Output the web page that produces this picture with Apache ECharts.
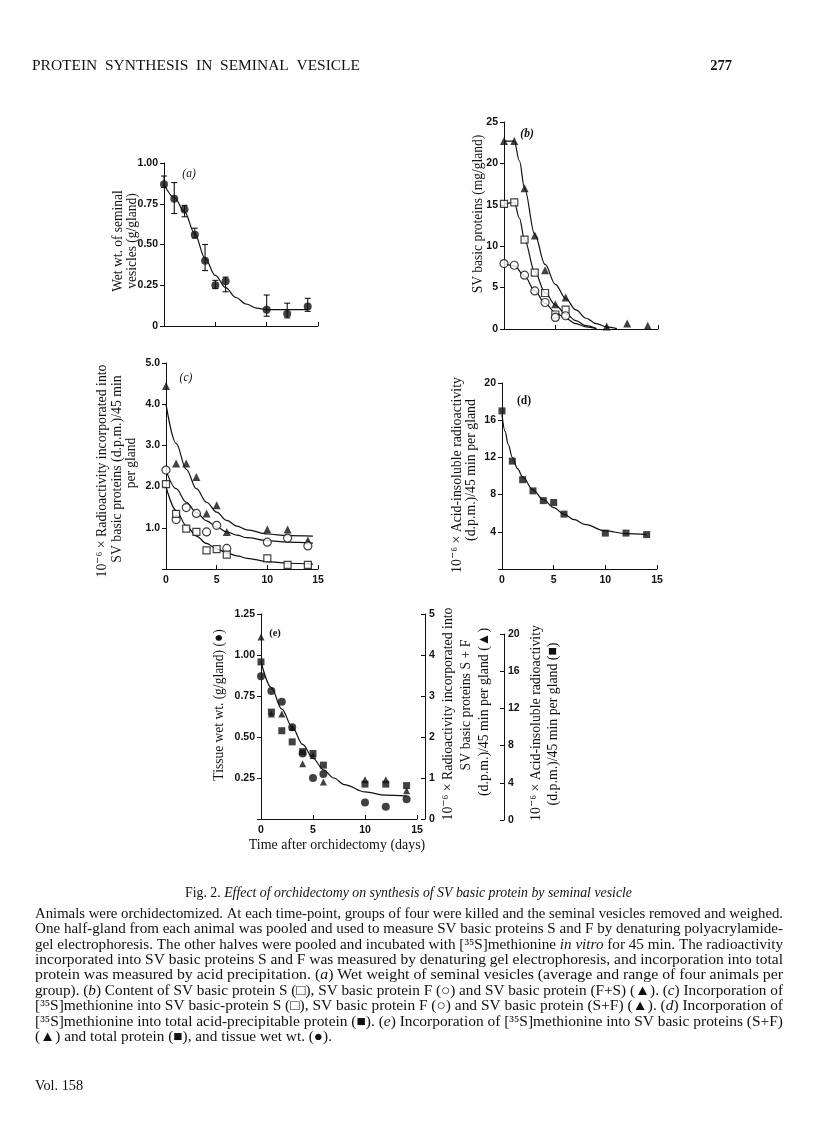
<!DOCTYPE html>
<html><head><meta charset="utf-8">
<script src="https://cdn.jsdelivr.net/npm/echarts@6/dist/echarts.min.js"></script>
<style>html,body{margin:0;padding:0;background:#fff}#c{width:816px;height:1136px}</style>
</head><body><div id="c"></div>
<script>
// ---------- data ----------
const days = [0, 1, 2, 3, 4, 5, 6, 10, 12, 14];
const days7 = [0, 1, 2, 3, 4, 5, 6];

// (a) wet weight of seminal vesicles (g/gland) with range
const wetWt   = [0.87, 0.78, 0.715, 0.56, 0.40, 0.25, 0.275, 0.10, 0.075, 0.12];
const wetLow  = [0.85, 0.69, 0.67, 0.54, 0.34, 0.23, 0.21, 0.06, 0.05, 0.09];
const wetHigh = [0.92, 0.88, 0.74, 0.60, 0.50, 0.28, 0.30, 0.19, 0.14, 0.17];
const fitAx = [0, 1, 2, 3, 4, 5, 6, 7, 8, 9, 10, 12, 14];
const fitAy = [0.87, 0.79, 0.70, 0.565, 0.415, 0.31, 0.235, 0.175, 0.135, 0.11, 0.10, 0.10, 0.10];

// (b) SV basic proteins (mg/gland)
const protFS = [22.7, 22.7, 17.0, 11.3, 7.1, 3.0, 3.8, 0.3, 0.65, 0.4];
const protS  = [15.1, 15.3, 10.8, 6.8, 4.35, 1.75, 2.35];
const protF  = [7.9, 7.7, 6.5, 4.6, 3.2, 1.4, 1.6];
const fitBFSx = [0, 1, 1.5, 2, 3, 4, 5, 6, 7, 8, 9, 10, 11];
const fitBFSy = [22.7, 22.7, 20.3, 17.0, 11.4, 7.8, 5.4, 3.7, 2.3, 1.3, 0.65, 0.25, 0.05];
const fitBSx = [0, 1, 1.5, 2, 3, 4, 5, 6, 7, 8, 9];
const fitBSy = [15.1, 15.3, 13.4, 10.8, 6.9, 4.4, 2.9, 1.85, 1.0, 0.4, 0.05];
const fitBFx = [0, 1, 2, 3, 4, 5, 6, 7, 8, 9];
const fitBFy = [7.9, 7.65, 6.4, 4.6, 3.1, 2.0, 1.3, 0.65, 0.25, 0.03];

// (c) radioactivity incorporated (10^-6 d.p.m./45 min per gland)
const radFS = [4.44, 2.56, 2.56, 2.23, 1.35, 1.55, 0.90, 0.96, 0.96, 0.69];
const radF  = [2.40, 1.20, 1.49, 1.35, 0.90, 1.06, 0.50, 0.65, 0.75, 0.56];
const radS  = [2.06, 1.34, 0.98, 0.90, 0.45, 0.48, 0.35, 0.26, 0.10, 0.10];
const fitCx   = [0, 1, 2, 3, 4, 5, 6, 7, 8, 10, 12, 14.5];
const fitCFSy = [4.0, 3.05, 2.42, 1.95, 1.62, 1.38, 1.18, 1.04, 0.95, 0.85, 0.81, 0.80];
const fitCFy  = [2.40, 1.95, 1.62, 1.37, 1.17, 1.02, 0.90, 0.82, 0.76, 0.69, 0.65, 0.63];
const fitCSy  = [2.0, 1.42, 1.05, 0.80, 0.62, 0.49, 0.39, 0.32, 0.26, 0.18, 0.14, 0.12];

// (d) acid-insoluble radioactivity
const acidIns = [17.0, 11.6, 9.6, 8.4, 7.35, 7.15, 5.9, 3.86, 3.86, 3.7];
const fitDx = [0, 0.3, 0.6, 1, 1.5, 2, 3, 4, 5, 6, 7, 8, 10, 12, 14];
const fitDy = [16.6, 14.8, 13.4, 12.0, 10.8, 9.9, 8.5, 7.45, 6.6, 5.9, 5.3, 4.8, 4.1, 3.8, 3.7];

// (e) combined plot fit (tissue wet wt scale)
const fitEx = [0, 1, 2, 3, 4, 5, 6, 7, 8, 10, 12, 14];
const fitEy = [0.96, 0.80, 0.67, 0.56, 0.455, 0.37, 0.30, 0.25, 0.21, 0.165, 0.145, 0.14];

// ---------- helpers ----------
const SERIF = '"Liberation Serif","DejaVu Serif",serif';
const SANS = '"Liberation Sans","DejaVu Sans",sans-serif';
const INK = '#111';
const zip = (xs, ys) => ys.map((y, i) => [xs[i], y]);
const TICKFONT = { fontFamily: SANS, fontSize: 10.5, fontWeight: 'bold', color: INK };

function xAx(grid, labels, show = true) {
  return {
    type: 'value', gridIndex: grid, min: 0, max: 15, interval: 5, show,
    axisLine: { show: true, onZero: false, lineStyle: { color: INK, width: 1 } },
    axisTick: { show: true, inside: true, length: 4, lineStyle: { color: INK } },
    axisLabel: Object.assign({ show: labels, margin: 6 }, TICKFONT),
    splitLine: { show: false }
  };
}
function yAx(grid, max, interval, fmt, extra) {
  return Object.assign({
    type: 'value', gridIndex: grid, min: 0, max, interval,
    axisLine: { show: true, onZero: false, lineStyle: { color: INK, width: 1 } },
    axisTick: { show: true, inside: false, length: 4, lineStyle: { color: INK } },
    axisLabel: Object.assign({ margin: 6, formatter: fmt }, TICKFONT),
    splitLine: { show: false }
  }, extra || {});
}
function curve(xi, yi, xs, ys) {
  return { type: 'line', xAxisIndex: xi, yAxisIndex: yi, data: zip(xs, ys), smooth: 0.35,
    smoothMonotone: 'x', symbol: 'none', silent: true, z: 1,
    lineStyle: { color: INK, width: 1.2 } };
}
function pts(xi, yi, xs, ys, symbol, open, size) {
  return { type: 'scatter', xAxisIndex: xi, yAxisIndex: yi, data: zip(xs, ys), symbol,
    symbolSize: size, silent: true, z: 3,
    itemStyle: open ? { color: '#fff', borderColor: INK, borderWidth: 1.2 } : { color: INK } };
}

// text measuring for justified lines
const mctx = document.createElement('canvas').getContext('2d');
function segFont(k, size) {
  return ((k === 'i' || k === 'bi') ? 'italic ' : '') + ((k === 'b' || k === 'bi') ? 'bold ' : '') + size + 'px ' + SERIF;
}
function measure(segs, size) {
  let w = 0;
  segs.forEach(([t, k]) => { mctx.font = segFont(k, size); w += mctx.measureText(t).width; });
  return w;
}
function richLine(segs, x, y, size, sx) {
  const rich = {};
  ['r', 'i', 'b', 'bi'].forEach(k => rich[k] = {
    fontFamily: SERIF, fontSize: size,
    fontStyle: (k === 'i' || k === 'bi') ? 'italic' : 'normal',
    fontWeight: (k === 'b' || k === 'bi') ? 'bold' : 'normal', fill: INK, color: INK });
  const text = segs.map(([t, k]) => '{' + k + '|' + t + '}').join('');
  return { type: 'text', x, y, scaleX: sx, silent: true,
    style: { text, rich, fill: INK, fontFamily: SERIF, fontSize: size,
      textAlign: 'left', textVerticalAlign: 'middle', align: 'left', verticalAlign: 'middle' } };
}
function vText(t, x, y, size, sx) {
  return { type: 'text', x, y, rotation: Math.PI / 2, scaleX: sx || 0.9, silent: true,
    style: { text: t, fill: INK, fontFamily: SERIF, fontSize: size || 15,
      textAlign: 'center', textVerticalAlign: 'middle', align: 'center', verticalAlign: 'middle' } };
}
function hText(t, x, y, size, style, weight, align, sx) {
  return { type: 'text', x, y, scaleX: sx || 1, silent: true,
    style: { text: t, fill: INK, fontFamily: SERIF, fontSize: size, fontStyle: style || 'normal',
      fontWeight: weight || 'normal', textAlign: align || 'center', textVerticalAlign: 'middle',
      align: align || 'center', verticalAlign: 'middle' } };
}

// ---------- page text ----------
const header = [['PROTEIN  SYNTHESIS  IN  SEMINAL  VESICLE', 'r']];
const caption = [['Fig. 2. ', 'r'], ['Effect of orchidectomy on synthesis of SV basic protein by seminal vesicle', 'i']];
const para = [
  [['Animals were orchidectomized. At each time-point, groups of four were killed and the seminal vesicles removed and weighed.', 'r']],
  [['One half-gland from each animal was pooled and used to measure SV basic proteins S and F by denaturing polyacrylamide-', 'r']],
  [['gel electrophoresis. The other halves were pooled and incubated with [³⁵S]methionine ', 'r'], ['in vitro', 'i'], [' for 45 min. The radioactivity', 'r']],
  [['incorporated into SV basic proteins S and F was measured by denaturing gel electrophoresis, and incorporation into total', 'r']],
  [['protein was measured by acid precipitation. (', 'r'], ['a', 'i'], [') Wet weight of seminal vesicles (average and range of four animals per', 'r']],
  [['group). (', 'r'], ['b', 'i'], [') Content of SV basic protein S (□), SV basic protein F (○) and SV basic protein (F+S) (▲). (', 'r'], ['c', 'i'], [') Incorporation of', 'r']],
  [['[³⁵S]methionine into SV basic-protein S (□), SV basic protein F (○) and SV basic protein (S+F) (▲). (', 'r'], ['d', 'i'], [') Incorporation of', 'r']],
  [['[³⁵S]methionine into total acid-precipitable protein (■). (', 'r'], ['e', 'i'], [') Incorporation of [³⁵S]methionine into SV basic proteins (S+F)', 'r']],
  [['(▲) and total protein (■), and tissue wet wt. (●).', 'r']]
];

const graphics = [];
const HS = 14.5;
graphics.push(richLine(header, 32, 66, HS, 328 / measure(header, HS)));
graphics.push(hText('277', 721, 66, 14.5, 'normal', 'bold'));
graphics.push(richLine(caption, 185, 893, 14.5, 447 / measure(caption, 14.5)));
const PS = 14.5, PL = 35, PW = 748;
let sxs = [];
para.forEach((segs, i) => {
  const nat = measure(segs, PS);
  let sx;
  if (i < para.length - 1) { sx = PW / nat; sxs.push(sx); }
  else { sx = sxs.reduce((a, b) => a + b, 0) / sxs.length; }
  graphics.push(richLine(segs, PL, 914 + i * 15.4, PS, sx));
});
graphics.push(hText('Vol. 158', 35, 1086, 15, 'normal', 'normal', 'left', 0.95));

// panel letters
graphics.push(hText('(a)', 189, 174, 11.5, 'italic'));
graphics.push(hText('(b)', 527, 134, 11.5, 'italic', 'bold'));
graphics.push(hText('(c)', 186, 378, 11.5, 'italic'));
graphics.push(hText('(d)', 524, 401, 11.5, 'normal', 'bold'));
graphics.push(hText('(e)', 275, 633, 10.5, 'normal', 'bold'));

// axis titles
graphics.push(vText('Wet wt. of seminal', 118, 241));
graphics.push(vText('vesicles (g/gland)', 132, 241));
graphics.push(vText('SV basic proteins (mg/gland)', 478, 214));
graphics.push(vText('10⁻⁶ × Radioactivity incorporated into', 102, 471, 15, 0.92));
graphics.push(vText('SV basic proteins (d.p.m.)/45 min', 117, 469, 15, 0.92));
graphics.push(vText('per gland', 131, 463));
graphics.push(vText('10⁻⁶ × Acid-insoluble radioactivity', 457, 475, 15, 0.92));
graphics.push(vText('(d.p.m.)/45 min per gland', 471, 470, 15, 0.92));
graphics.push(vText('Tissue wet wt. (g/gland) (●)', 219, 705));
graphics.push(vText('10⁻⁶ × Radioactivity incorporated into', 448, 714, 15, 0.92));
graphics.push(vText('SV basic proteins S + F', 466, 705, 15, 0.92));
graphics.push(vText('(d.p.m.)/45 min per gland (▲)', 484, 712, 15, 0.92));
graphics.push(vText('10⁻⁶ × Acid-insoluble radioactivity', 536, 723, 15, 0.92));
graphics.push(vText('(d.p.m.)/45 min per gland (■)', 553, 724, 15, 0.92));
graphics.push(hText('Time after orchidectomy (days)', 337, 845, 15, 'normal', 'normal', 'center', 0.93));

// ---------- chart ----------
const chart = echarts.init(document.getElementById('c'), null, { renderer: 'canvas' });
const errBars = {
  type: 'custom', xAxisIndex: 0, yAxisIndex: 0, silent: true, z: 2,
  data: days.map((d, i) => [d, wetLow[i], wetHigh[i]]),
  encode: { x: 0, y: [1, 2] },
  renderItem: (params, api) => {
    const x = api.value(0);
    const p1 = api.coord([x, api.value(1)]);
    const p2 = api.coord([x, api.value(2)]);
    const w = 3, st = { stroke: INK, lineWidth: 1.1 };
    return { type: 'group', children: [
      { type: 'line', shape: { x1: p1[0], y1: p1[1], x2: p2[0], y2: p2[1] }, style: st },
      { type: 'line', shape: { x1: p1[0] - w, y1: p1[1], x2: p1[0] + w, y2: p1[1] }, style: st },
      { type: 'line', shape: { x1: p2[0] - w, y1: p2[1], x2: p2[0] + w, y2: p2[1] }, style: st }
    ] };
  }
};
const rightTick = { show: true, inside: true, length: 4, lineStyle: { color: INK } };

const option = {
  animation: false,
  backgroundColor: '#fff',
  grid: [
    { left: 164, top: 163, width: 154, height: 163 },   // a
    { left: 504, top: 122, width: 154, height: 207 },   // b
    { left: 166, top: 363, width: 152, height: 206 },   // c
    { left: 502, top: 383, width: 155, height: 186 },   // d
    { left: 261, top: 614, width: 156, height: 205 },   // e
    { left: 261, top: 634, width: 156, height: 186 }    // e, third scale
  ],
  xAxis: [xAx(0, false), xAx(1, false), xAx(2, true), xAx(3, true), xAx(4, true), xAx(5, false, false)],
  yAxis: [
    yAx(0, 1, 0.25, v => v === 0 ? '0' : v.toFixed(2)),
    yAx(1, 25, 5, v => String(v)),
    yAx(2, 5, 1, v => v === 0 ? '' : v.toFixed(1)),
    yAx(3, 20, 4, v => v === 0 ? '' : String(v)),
    yAx(4, 1.25, 0.25, v => v === 0 ? '' : v.toFixed(2)),
    yAx(4, 5, 1, v => String(v), { position: 'right', offset: 8, axisTick: rightTick,
      axisLabel: Object.assign({ margin: 4 }, TICKFONT) }),
    yAx(5, 20, 4, v => String(v), { position: 'right', offset: 87, axisTick: rightTick,
      axisLabel: Object.assign({ margin: 4 }, TICKFONT) })
  ],
  graphic: { elements: graphics },
  series: [
    // (a)
    curve(0, 0, fitAx, fitAy),
    errBars,
    pts(0, 0, days, wetWt, 'circle', false, 8),
    // (b)
    curve(1, 1, fitBFSx, fitBFSy),
    curve(1, 1, fitBSx, fitBSy),
    curve(1, 1, fitBFx, fitBFy),
    pts(1, 1, days, protFS, 'triangle', false, 8),
    pts(1, 1, days7, protS, 'rect', true, 7),
    pts(1, 1, days7, protF, 'circle', true, 8),
    // (c)
    curve(2, 2, fitCx, fitCFSy),
    curve(2, 2, fitCx, fitCFy),
    curve(2, 2, fitCx, fitCSy),
    pts(2, 2, days, radFS, 'triangle', false, 8),
    pts(2, 2, days, radF, 'circle', true, 8),
    pts(2, 2, days, radS, 'rect', true, 7),
    // (d)
    curve(3, 3, fitDx, fitDy),
    pts(3, 3, days, acidIns, 'rect', false, 7),
    // (e)
    curve(4, 4, fitEx, fitEy),
    pts(4, 5, days, radFS, 'triangle', false, 7),
    pts(4, 4, days, wetWt, 'circle', false, 8),
    pts(5, 6, days, acidIns, 'rect', false, 7)
  ]
};
chart.setOption(option);
</script></body></html>
